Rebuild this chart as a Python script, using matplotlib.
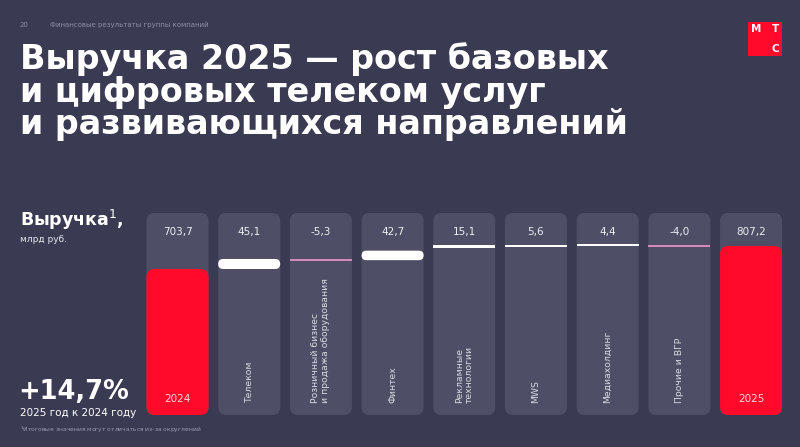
import matplotlib
matplotlib.use("Agg")
import matplotlib.pyplot as plt
from matplotlib.patches import FancyBboxPatch, Rectangle
import matplotlib.transforms as mtransforms

# Data
categories = ["2024", "Телеком", "Розничный бизнес\nи продажа оборудования", "Финтех",
              "Рекламные\nтехнологии", "MWS", "Медиахолдинг", "Прочие и ВГР", "2025"]
value_labels = ["703,7", "45,1", "-5,3", "42,7", "15,1", "5,6", "4,4", "-4,0", "807,2"]
start_value = 703.7
deltas = [45.1, -5.3, 42.7, 15.1, 5.6, 4.4, -4.0]
end_value = 807.2

BG = "#3a3b53"
PANEL = "#4e4f66"
RED = "#ff0a2a"
WHITE = "#ffffff"
NEG = "#d48ab8"
LABEL = "#d9d9e2"

plt.rcParams["font.family"] = ["DejaVu Sans"]

fig = plt.figure(figsize=(8, 4.47), dpi=100, facecolor=BG)

# header
fig.text(20 / 800, 1 - 25 / 447, "20", color="#8d8ea3", fontsize=5, va="center")
fig.text(50 / 800, 1 - 25 / 447, "Финансовые результаты группы компаний", color="#8d8ea3",
         fontsize=5, va="center")

# logo
logo = fig.add_axes([748 / 800, 1 - 56 / 447, 34 / 800, 34 / 447])
logo.set_facecolor(RED)
logo.set_xticks([])
logo.set_yticks([])
for s in logo.spines.values():
    s.set_visible(False)
logo.text(0.25, 0.8, "М", color="white", fontsize=7.5, fontweight="bold", ha="center", va="center")
logo.text(0.8, 0.8, "Т", color="white", fontsize=7.5, fontweight="bold", ha="center", va="center")
logo.text(0.8, 0.2, "С", color="white", fontsize=7.5, fontweight="bold", ha="center", va="center")

# title (baseline of the last line)
fig.text(20 / 800, 1 - 134 / 447,
         "Выручка 2025 — рост базовых\nи цифровых телеком услуг\nи развивающихся направлений",
         color="white", fontsize=24, fontweight="bold", va="baseline", ha="left",
         linespacing=0.98)

# left labels
fig.text(20 / 800, 1 - 226 / 447, "Выручка$^1$,", color="white", fontsize=12.5,
         fontweight="bold", va="baseline")
fig.text(20 / 800, 1 - 242 / 447, "млрд руб.", color="#e6e6ee", fontsize=6.5, va="baseline")
fig.text(18 / 800, 1 - 399 / 447, "+14,7%", color="white", fontsize=18.5, fontweight="bold",
         va="baseline")
fig.text(20 / 800, 1 - 416 / 447, "2025 год к 2024 году", color="white", fontsize=7.5,
         va="baseline")
fig.text(20 / 800, 1 - 432 / 447, "$^1$Итоговые значения могут отличаться из-за округлений",
         color="#9a9bb0", fontsize=4.3, va="baseline")

# chart axes
ax = fig.add_axes([140 / 800, 1 - 415 / 447, 650 / 800, 202 / 447])
ax.set_facecolor(BG)
ax.patch.set_alpha(0)
for s in ax.spines.values():
    s.set_visible(False)
ax.set_xticks([])
ax.set_yticks([])
ylo, yhi = 46.7, 955.7
ax.set_xlim(-0.523, 8.543)
ax.set_ylim(ylo, yhi)

bbox = ax.get_window_extent()
px_x = bbox.width / (8.543 + 0.523)
px_y = bbox.height / (yhi - ylo)
aspect = px_x / px_y

width = 0.865


def rbox(x0, y0, w, h, r_px, color, z):
    r = r_px / px_x
    p = FancyBboxPatch((x0, y0), w, h, boxstyle="round,pad=0,rounding_size=%f" % r,
                       mutation_aspect=aspect, facecolor=color, edgecolor="none",
                       zorder=z, clip_on=False)
    ax.add_patch(p)


n = len(categories)
for i in range(n):
    rbox(i - width / 2, ylo, width, yhi - ylo, 8, PANEL, 1)

# start and end bars
for i, v in [(0, start_value), (n - 1, end_value)]:
    rbox(i - width / 2, ylo, width, v - ylo, 8, RED, 2)

# deltas
level = start_value
for k, d in enumerate(deltas):
    i = k + 1
    new = level + d
    lo = min(level, new)
    h = abs(d)
    h_px = h * px_y
    col = WHITE if d > 0 else NEG
    if h_px >= 4:
        rbox(i - width / 2, lo, width, h, min(5, h_px / 2), col, 2)
    else:
        ax.add_patch(Rectangle((i - width / 2, new - 0.8 / px_y), width, max(h, 1.6 / px_y),
                               facecolor=col, edgecolor="none", zorder=2))
    level = new

# texts
trans = mtransforms.blended_transform_factory(ax.transData, ax.transAxes)
for i in range(n):
    ax.text(i, 0.906, value_labels[i], transform=trans, ha="center", va="center",
            color="#ececf2", fontsize=7.5, zorder=3)
    if i in (0, n - 1):
        ax.text(i, 0.078, categories[i], transform=trans, ha="center", va="center",
                color="#ffd7dc", fontsize=7.5, zorder=3)
    else:
        ax.text(i, 0.06, categories[i], transform=trans, ha="center", va="bottom",
                rotation=90, multialignment="left", color=LABEL, fontsize=6.7,
                linespacing=1.15, zorder=3)

fig.savefig("out.png", dpi=100, facecolor=BG)
